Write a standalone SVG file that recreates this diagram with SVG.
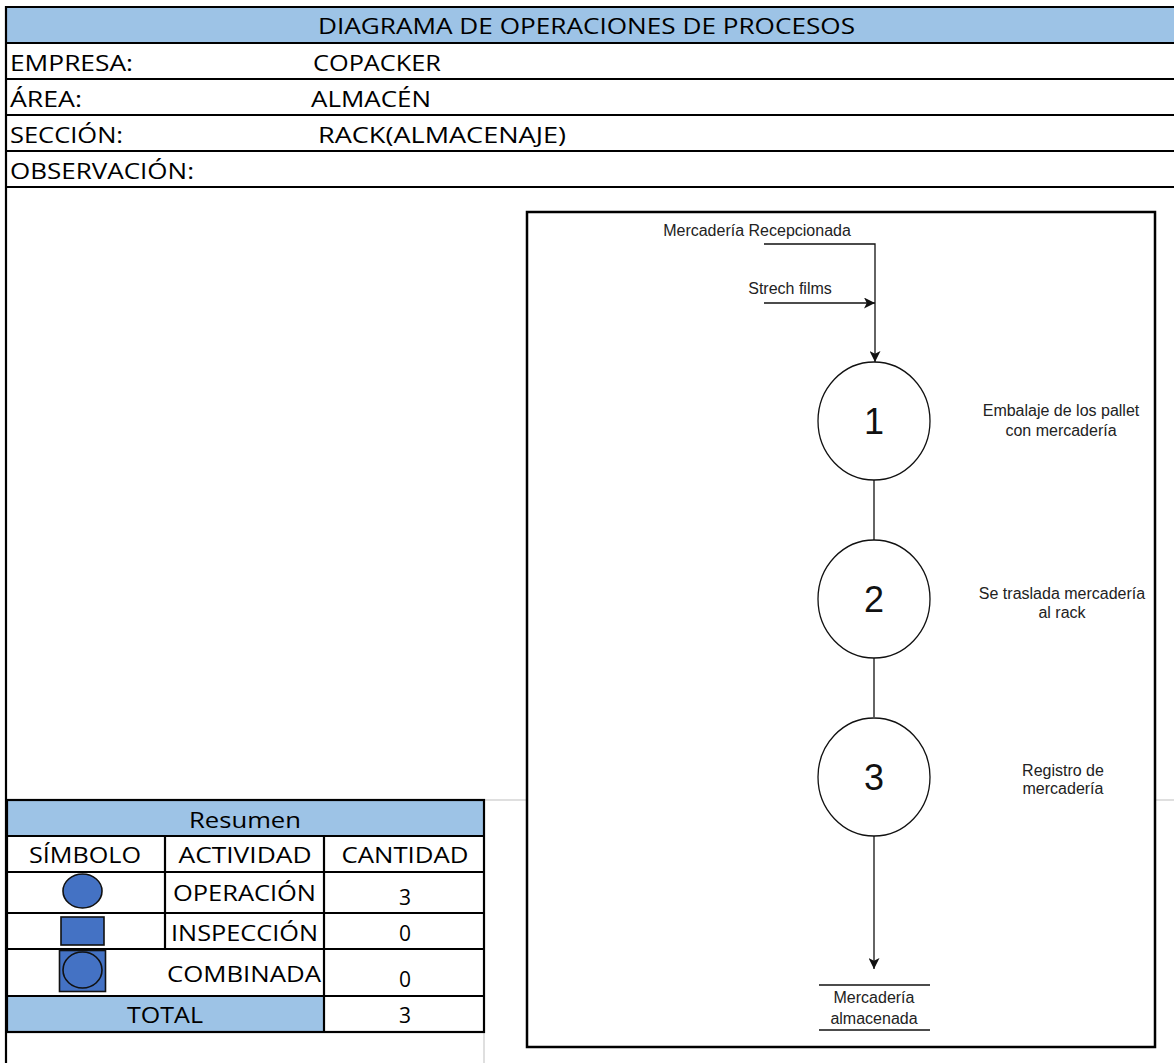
<svg xmlns="http://www.w3.org/2000/svg" width="1174" height="1063" viewBox="0 0 1174 1063">
  <style>
    .xl { font-family: "Open Sans", "Noto Sans", "Liberation Sans", sans-serif; font-size: 21px; fill: #000; }
    .c { text-anchor: middle; }
    .fc { font-family: "Liberation Sans", Arial, sans-serif; font-size: 16px; fill: #222; text-anchor: middle; }
    .num { font-family: "Liberation Sans", Arial, sans-serif; font-size: 36px; fill: #111; text-anchor: middle; }
    .hl { stroke: #000; stroke-width: 2.2; fill: none; }
    .grid { stroke: #d4d4d4; stroke-width: 1.5; fill: none; }
    .blue { fill: #9DC3E6; }
    .sym { fill: #4472C4; stroke: #111; stroke-width: 1.6; }
    .node { fill: #fff; stroke: #111; stroke-width: 1.3; }
    .conn { stroke: #111; stroke-width: 1.3; fill: none; }
  </style>
  <defs>
    <marker id="arr" viewBox="0 0 10 10" refX="10" refY="5" markerWidth="11" markerHeight="11" markerUnits="userSpaceOnUse" orient="auto">
      <path d="M0,0 L10,5 L0,10 L2.5,5 z" fill="#111"/>
    </marker>
  </defs>

  <rect width="1174" height="1063" fill="#fff"/>

  <!-- Header table -->
  <g id="header">
    <rect x="6" y="7" width="1168" height="36" class="blue"/>
    <line x1="6" y1="7" x2="1174" y2="7" class="hl"/>
    <line x1="6" y1="43" x2="1174" y2="43" class="hl"/>
    <line x1="6" y1="79" x2="1174" y2="79" class="hl"/>
    <line x1="6" y1="115" x2="1174" y2="115" class="hl"/>
    <line x1="6" y1="151" x2="1174" y2="151" class="hl"/>
    <line x1="6" y1="187" x2="1174" y2="187" class="hl"/>
    <line x1="6" y1="6" x2="6" y2="1063" class="hl"/>
    <text x="318" y="34" class="xl" textLength="537" lengthAdjust="spacingAndGlyphs">DIAGRAMA DE OPERACIONES DE PROCESOS</text>
    <text x="10" y="71" class="xl" textLength="123" lengthAdjust="spacingAndGlyphs">EMPRESA:</text>
    <text x="313" y="71" class="xl" textLength="128" lengthAdjust="spacingAndGlyphs">COPACKER</text>
    <text x="10" y="107" class="xl" textLength="72" lengthAdjust="spacingAndGlyphs">ÁREA:</text>
    <text x="311" y="107" class="xl" textLength="120" lengthAdjust="spacingAndGlyphs">ALMACÉN</text>
    <text x="10" y="143" class="xl" textLength="113" lengthAdjust="spacingAndGlyphs">SECCIÓN:</text>
    <text x="318" y="143" class="xl" textLength="248" lengthAdjust="spacingAndGlyphs">RACK(ALMACENAJE)</text>
    <text x="10" y="179" class="xl" textLength="184" lengthAdjust="spacingAndGlyphs">OBSERVACIÓN:</text>
  </g>

  <!-- spreadsheet gridlines -->
  <g id="gridlines">
    <line x1="484" y1="800" x2="527" y2="800" class="grid"/>
    <line x1="1155" y1="800" x2="1174" y2="800" class="grid"/>
    <line x1="484" y1="1032" x2="484" y2="1063" class="grid"/>
  </g>

  <!-- Resumen table -->
  <g id="resumen">
    <rect x="7" y="800" width="477" height="36" class="blue"/>
    <rect x="7" y="996" width="317" height="36" class="blue"/>
    <rect x="7" y="800" width="477" height="232" class="hl"/>
    <line x1="7" y1="836" x2="484" y2="836" class="hl"/>
    <line x1="7" y1="872" x2="484" y2="872" class="hl"/>
    <line x1="7" y1="913" x2="484" y2="913" class="hl"/>
    <line x1="7" y1="949" x2="484" y2="949" class="hl"/>
    <line x1="7" y1="996" x2="484" y2="996" class="hl"/>
    <line x1="165" y1="836" x2="165" y2="950" class="hl"/>
    <line x1="324" y1="836" x2="324" y2="1032" class="hl"/>
    <text x="245" y="828" class="xl c" textLength="112" lengthAdjust="spacingAndGlyphs">Resumen</text>
    <text x="85" y="863" class="xl c" textLength="112" lengthAdjust="spacingAndGlyphs">SÍMBOLO</text>
    <text x="245" y="863" class="xl c" textLength="133" lengthAdjust="spacingAndGlyphs">ACTIVIDAD</text>
    <text x="405" y="863" class="xl c" textLength="127" lengthAdjust="spacingAndGlyphs">CANTIDAD</text>
    <ellipse cx="82.5" cy="891" rx="19.5" ry="17" class="sym"/>
    <text x="244.5" y="901" class="xl c" textLength="143" lengthAdjust="spacingAndGlyphs">OPERACIÓN</text>
    <text x="405" y="905" class="xl c">3</text>
    <rect x="61" y="917" width="43" height="28" class="sym"/>
    <text x="244.5" y="941" class="xl c" textLength="147" lengthAdjust="spacingAndGlyphs">INSPECCIÓN</text>
    <text x="405" y="941" class="xl c">0</text>
    <rect x="59.5" y="950.5" width="46" height="41" class="sym"/>
    <ellipse cx="82.5" cy="970" rx="19.5" ry="18" class="sym"/>
    <text x="244" y="982" class="xl c" textLength="154" lengthAdjust="spacingAndGlyphs">COMBINADA</text>
    <text x="405" y="987" class="xl c">0</text>
    <text x="165" y="1023" class="xl c" textLength="76" lengthAdjust="spacingAndGlyphs">TOTAL</text>
    <text x="405" y="1023" class="xl c">3</text>
  </g>

  <!-- Flow diagram frame -->
  <g id="frame">
    <rect x="527" y="212" width="628" height="835" fill="#fff" stroke="#000" stroke-width="2.5"/>
  </g>

  <!-- Connectors -->
  <g id="connectors">
    <polyline points="764,244 875,244 875,362" class="conn" marker-end="url(#arr)"/>
    <line x1="764" y1="303" x2="875" y2="303" class="conn" marker-end="url(#arr)"/>
    <line x1="874" y1="480" x2="874" y2="540" class="conn"/>
    <line x1="874" y1="658" x2="874" y2="717" class="conn"/>
    <line x1="874" y1="836" x2="874" y2="969" class="conn" marker-end="url(#arr)"/>
  </g>

  <g id="input-mercaderia">
    <text x="757" y="236" class="fc">Mercadería Recepcionada</text>
  </g>
  <g id="input-strech">
    <text x="790" y="294" class="fc">Strech films</text>
  </g>

  <g id="op1">
    <ellipse cx="874" cy="421" rx="56" ry="59" class="node"/>
    <text x="874" y="434" class="num">1</text>
    <text x="1061" y="416" class="fc">Embalaje de los pallet</text>
    <text x="1061" y="436" class="fc">con mercadería</text>
  </g>
  <g id="op2">
    <ellipse cx="874" cy="599" rx="56" ry="59" class="node"/>
    <text x="874" y="612" class="num">2</text>
    <text x="1062" y="599" class="fc">Se traslada mercadería</text>
    <text x="1062" y="618" class="fc">al rack</text>
  </g>
  <g id="op3">
    <ellipse cx="874" cy="777" rx="56" ry="59" class="node"/>
    <text x="874" y="790" class="num">3</text>
    <text x="1063" y="776" class="fc">Registro de</text>
    <text x="1063" y="794" class="fc">mercadería</text>
  </g>

  <g id="output">
    <line x1="819" y1="985" x2="930" y2="985" class="conn"/>
    <line x1="819" y1="1030" x2="930" y2="1030" class="conn"/>
    <text x="874" y="1003" class="fc">Mercadería</text>
    <text x="874" y="1024" class="fc">almacenada</text>
  </g>
</svg>
